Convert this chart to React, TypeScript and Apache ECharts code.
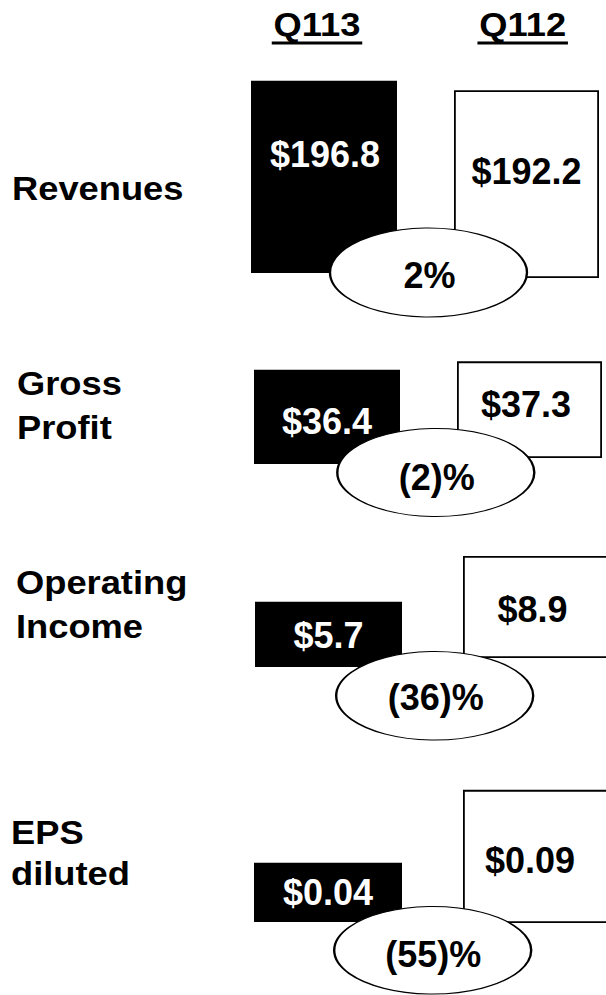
import React, { useEffect, useRef } from "react";
import * as echarts from "echarts";

// ---- data ----
const periods = ["Q113", "Q112"];
const metrics = ["Revenues", "Gross\nProfit", "Operating\nIncome", "EPS\ndiluted"];
const q113Values = [196.8, 36.4, 5.7, 0.04];
const q112Values = [192.2, 37.3, 8.9, 0.09];
const changePct = [2, -2, -36, -55];
const decimals = [1, 1, 1, 2];

// ---- layout (styling only) ----
const FONT = "'Liberation Sans', Arial, Helvetica, sans-serif";
const H = 250;
const panels = [
  { black: { left: 251, width: 146, base: 273 }, white: { left: 454, width: 145, base: 278 }, yMax: 256,
    blackLabel: [1, -22.5], whiteLabel: [0, -13], ellOff: [104.5, -0.5], ellSize: [197, 89], pctOff: [1, 2.5],
    rowY: 189, rowLH: 44, rowX: 12 },
  { black: { left: 254, width: 146, base: 464 }, white: { left: 457, width: 145, base: 458 }, yMax: 96.5,
    blackLabel: [0, 4.5], whiteLabel: [-3.5, -5], ellOff: [108.8, 8.5], ellSize: [197, 88], pctOff: [1, 5],
    rowY: 406, rowLH: 44, rowX: 17 },
  { black: { left: 255, width: 147, base: 667 }, white: { left: 463, width: 230, base: 658 }, yMax: 21.8,
    blackLabel: [0, 1], whiteLabel: [-45.5, 3], ellOff: [106.2, 28.8], ellSize: [197, 88.5], pctOff: [1, 2],
    rowY: 605, rowLH: 44, rowX: 16 },
  { black: { left: 254, width: 148, base: 922 }, white: { left: 463, width: 230, base: 923 }, yMax: 0.169,
    blackLabel: [0, 0], whiteLabel: [-48, 4.5], ellOff: [104.7, 28.3], ellSize: [197, 87.5], pctOff: [0.5, 4.5],
    rowY: 853, rowLH: 41.5, rowX: 11 },
];
const headerX = [317, 522.7];
const headerW = 90.5;

const fmtChange = (v: number) => (v < 0 ? `(${Math.abs(v)})%` : `${v}%`);

export default function App() {
  const ref = useRef<HTMLDivElement>(null);
  useEffect(() => {
    if (!ref.current) return;
    const chart = echarts.init(ref.current, null, { renderer: "svg" });
    const grid: any[] = [];
    const xAxis: any[] = [];
    const yAxis: any[] = [];
    const series: any[] = [];
    const ellipses: any[] = [];

    panels.forEach((p, i) => {
      const defs = [
        { box: p.black, cat: periods[0], value: q113Values[i], fill: "#000000", text: "#ffffff", off: p.blackLabel },
        { box: p.white, cat: periods[1], value: q112Values[i], fill: "#ffffff", text: "#000000", off: p.whiteLabel },
      ];
      defs.forEach((d, j) => {
        const idx = grid.length;
        grid.push({ left: d.box.left, width: d.box.width, top: d.box.base - H, height: H, containLabel: false });
        xAxis.push({ type: "category", gridIndex: idx, data: [d.cat], show: false, boundaryGap: true });
        yAxis.push({ type: "value", gridIndex: idx, min: 0, max: p.yMax, show: false, splitLine: { show: false } });
        series.push({
          type: "bar",
          xAxisIndex: idx,
          yAxisIndex: idx,
          barWidth: "100%",
          z: 2,
          itemStyle: { color: d.fill, borderColor: "#000000", borderWidth: j === 1 ? 1.8 : 0 },
          label: {
            show: true,
            position: "inside",
            offset: d.off,
            color: d.text,
            fontSize: 36,
            fontWeight: "bold",
            fontFamily: FONT,
            formatter: (prm: any) => "$" + Number(prm.value).toFixed(decimals[i]),
          },
          data: [d.value],
        });
        if (j === 0) {
          ellipses.push({
            type: "scatter",
            xAxisIndex: idx,
            yAxisIndex: idx,
            clip: false,
            z: 10,
            symbol: "circle",
            symbolSize: p.ellSize,
            symbolOffset: p.ellOff,
            itemStyle: { color: "#ffffff", borderColor: "#000000", borderWidth: 1.6, opacity: 1 },
            label: {
              show: true,
              position: "inside",
              offset: p.pctOff,
              color: "#000000",
              fontSize: 36,
              fontWeight: "bold",
              fontFamily: FONT,
              formatter: () => fmtChange(changePct[i]),
            },
            data: [[d.cat, 0]],
          });
        }
      });
    });

    const graphic: any[] = [];
    periods.forEach((name, k) => {
      graphic.push({
        type: "text",
        x: headerX[k],
        y: 25,
        scaleX: 1.1,
        style: { text: name, fill: "#000", font: `bold 33px ${FONT}`, textAlign: "center", textVerticalAlign: "middle" },
      });
      graphic.push({
        type: "rect",
        shape: { x: headerX[k] - headerW / 2, y: 41.5, width: headerW, height: 3 },
        style: { fill: "#000" },
      });
    });
    metrics.forEach((m, i) => {
      const lines = m.split("\n");
      const p = panels[i];
      lines.forEach((ln, li) => {
        const y = p.rowY + (li - (lines.length - 1) / 2) * p.rowLH;
        graphic.push({
          type: "text",
          x: p.rowX,
          y,
          scaleX: 1.1,
          style: { text: ln, fill: "#000", font: `bold 33px ${FONT}`, textAlign: "left", textVerticalAlign: "middle" },
        });
      });
    });

    chart.setOption({
      animation: false,
      backgroundColor: "#ffffff",
      grid,
      xAxis,
      yAxis,
      series: [...series, ...ellipses],
      graphic,
    });
    return () => chart.dispose();
  }, []);
  return (
    <div style={{ position: "absolute", left: 0, top: 0, width: 606, height: 995, overflow: "hidden" }}>
      <div ref={ref} style={{ width: 720, height: 995 }} />
    </div>
  );
}
